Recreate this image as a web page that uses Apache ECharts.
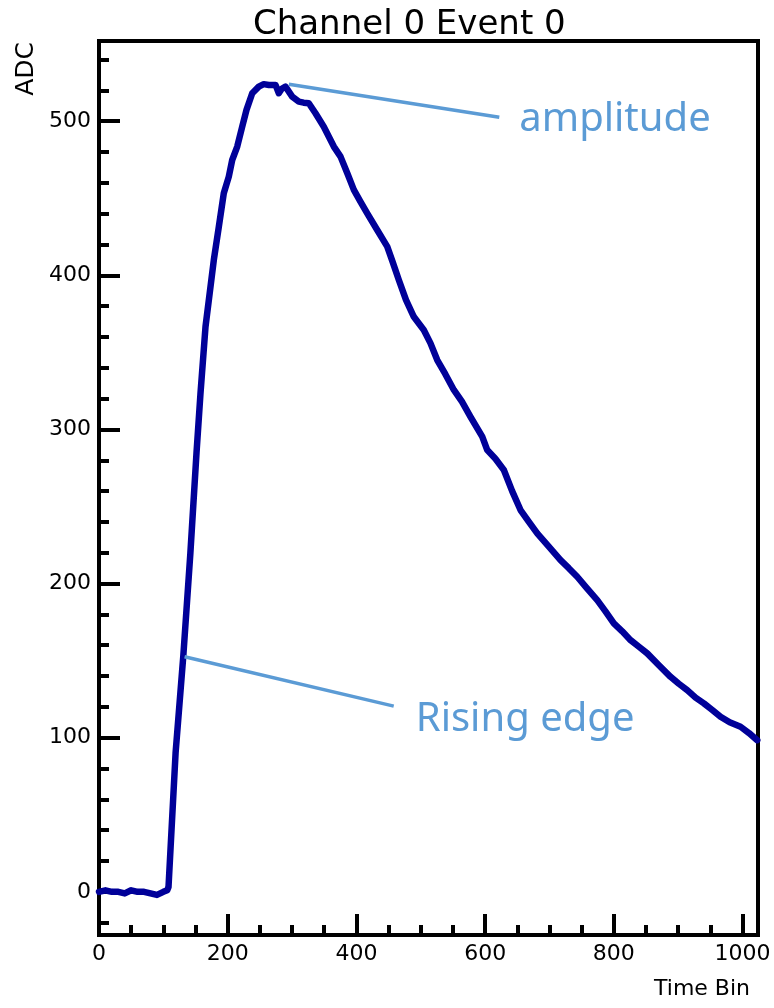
<!DOCTYPE html>
<html>
<head>
<meta charset="utf-8">
<script src="https://cdn.jsdelivr.net/npm/echarts@6/dist/echarts.min.js"></script>
<style>
html,body{margin:0;padding:0;background:#fff;}
#chart{width:774px;height:1008px;}
</style>
</head>
<body>
<div id="chart"></div>
<script>
// ---- data ----
const timeBins = [0,10,20,30,40,50,60,70,80,90,100,106,108,119,131,142,151.5,157.7,165.5,178.4,186.2,193.9,201.7,207,214.8,222.5,229.2,238.1,248.3,256,263.9,274.3,279.4,284,289.8,300.2,310.5,318,326,336.4,349.3,364.9,375.3,386,396,406,416.8,432.3,447.9,456,465.9,477,489.2,504.7,515,525.6,538,551.4,564,577.3,595.5,603.3,616,629.1,642,655,668,681,699,717.2,730,743.1,758,774.2,787,800,813,826,839,851.9,870,888.1,901,914,927,939.9,953,965.8,980,996.9,1010,1022.8];
const adcValues = [0,1,0,0,-1,1,0,0,-1,-2,0,1,3.1,90,153,219.8,284.7,323.4,366.6,409.9,431.5,453.2,464,474.8,483.5,496.4,507.3,518.1,522.4,524,523.5,523.5,518.1,521,522.4,515.9,512.7,512,511.6,505.1,496.4,483.5,477,466,455.4,448,440.2,429.4,418.6,409,396.9,384,373.1,364.5,356,345,336,325.6,318,308.2,295.3,286.6,281,273.7,260,247.7,240,232.6,224,215.2,210,204.4,197,189.3,182,174.2,169,163.3,159,154.7,147,139.5,135,130.9,126,122.3,118,113.6,110,107.1,103,98.4];

const xMajorTicks = [0,200,400,600,800,1000];
const xMinorTicks = [50,100,150,250,300,350,450,500,550,650,700,750,850,900,950];
const yMajorTicks = [0,100,200,300,400,500];
const yMinorTicks = [-20,20,40,60,80,120,140,160,180,220,240,260,280,320,340,360,380,420,440,460,480,520,540];

const amplitudeLineX = [295, 622];
const amplitudeLineY = [524, 502.5];
const risingLineX = [133, 458];
const risingLineY = [152.5, 120.5];

const titleText = 'Channel 0 Event 0';
const xName = 'Time Bin';
const yName = 'ADC';
const amplitudeText = 'amplitude';
const risingText = 'Rising edge';

// ---- chart ----
const zip = (a, b) => a.map((v, i) => [v, b[i]]);
const chart = echarts.init(document.getElementById('chart'), null, {renderer: 'canvas'});
const FONT = 'DejaVu Sans';
const annColor = '#5b9bd5';
const plainNum = v => String(v);

function baseX(extra) {
  return Object.assign({
    type: 'value', min: 0, max: 1024, position: 'bottom',
    splitLine: {show: false}
  }, extra);
}
function baseY(extra) {
  return Object.assign({
    type: 'value', min: -28, max: 552, position: 'left',
    splitLine: {show: false}
  }, extra);
}

chart.setOption({
  animation: false,
  backgroundColor: '#fff',
  title: {
    text: titleText,
    left: 248, top: 3,
    textStyle: {fontFamily: FONT, fontSize: 34, fontWeight: 'normal', color: '#000'}
  },
  grid: {
    left: 99, right: 16, top: 41, bottom: 73,
    show: true, borderColor: '#000', borderWidth: 4, backgroundColor: 'transparent'
  },
  xAxis: [
    baseX({
      axisLine: {show: true, onZero: false, lineStyle: {color: '#000', width: 4}},
      axisTick: {show: true, inside: true, length: 21, customValues: xMajorTicks, lineStyle: {color: '#000', width: 4}},
      axisLabel: {show: true, customValues: xMajorTicks, formatter: plainNum, margin: 8, fontFamily: FONT, fontSize: 22, color: '#000'}
    }),
    baseX({
      axisLine: {show: false, onZero: false},
      axisTick: {show: true, inside: true, length: 10, customValues: xMinorTicks, lineStyle: {color: '#000', width: 4}},
      axisLabel: {show: false}
    })
  ],
  yAxis: [
    baseY({
      axisLine: {show: true, onZero: false, lineStyle: {color: '#000', width: 4}},
      axisTick: {show: true, inside: true, length: 21, customValues: yMajorTicks, lineStyle: {color: '#000', width: 4}},
      axisLabel: {show: true, customValues: yMajorTicks, formatter: plainNum, margin: 8, padding: [8, 0, 0, 0], fontFamily: FONT, fontSize: 22, color: '#000'}
    }),
    baseY({
      axisLine: {show: false, onZero: false},
      axisTick: {show: true, inside: true, length: 10, customValues: yMinorTicks, lineStyle: {color: '#000', width: 4}},
      axisLabel: {show: false}
    })
  ],
  graphic: [
    {type: 'text', left: 14, top: 42, rotation: Math.PI / 2, style: {text: yName, font: '25px "DejaVu Sans"', fill: '#000'}},
    {type: 'text', right: 24, top: 978, style: {text: xName, font: '22px "DejaVu Sans"', fill: '#000'}}
  ],
  series: [
    {
      type: 'line', xAxisIndex: 0, yAxisIndex: 0,
      data: zip(timeBins, adcValues),
      showSymbol: false, symbol: 'none',
      lineStyle: {color: '#000099', width: 6.5, join: 'round', cap: 'round'},
      z: 3
    },
    {
      type: 'line', xAxisIndex: 0, yAxisIndex: 0,
      data: zip(amplitudeLineX, amplitudeLineY),
      showSymbol: false, symbol: 'none',
      lineStyle: {color: annColor, width: 3.5},
      endLabel: {show: true, formatter: amplitudeText, distance: 20, offset: [0, 2],
        color: annColor, fontFamily: 'Noto Sans', fontSize: 40},
      z: 4
    },
    {
      type: 'line', xAxisIndex: 0, yAxisIndex: 0,
      data: zip(risingLineX, risingLineY),
      showSymbol: false, symbol: 'none',
      lineStyle: {color: annColor, width: 3.5},
      endLabel: {show: true, formatter: risingText, distance: 22, offset: [0, 14],
        color: annColor, fontFamily: 'Noto Sans', fontSize: 40},
      z: 4
    }
  ]
});
</script>
</body>
</html>
